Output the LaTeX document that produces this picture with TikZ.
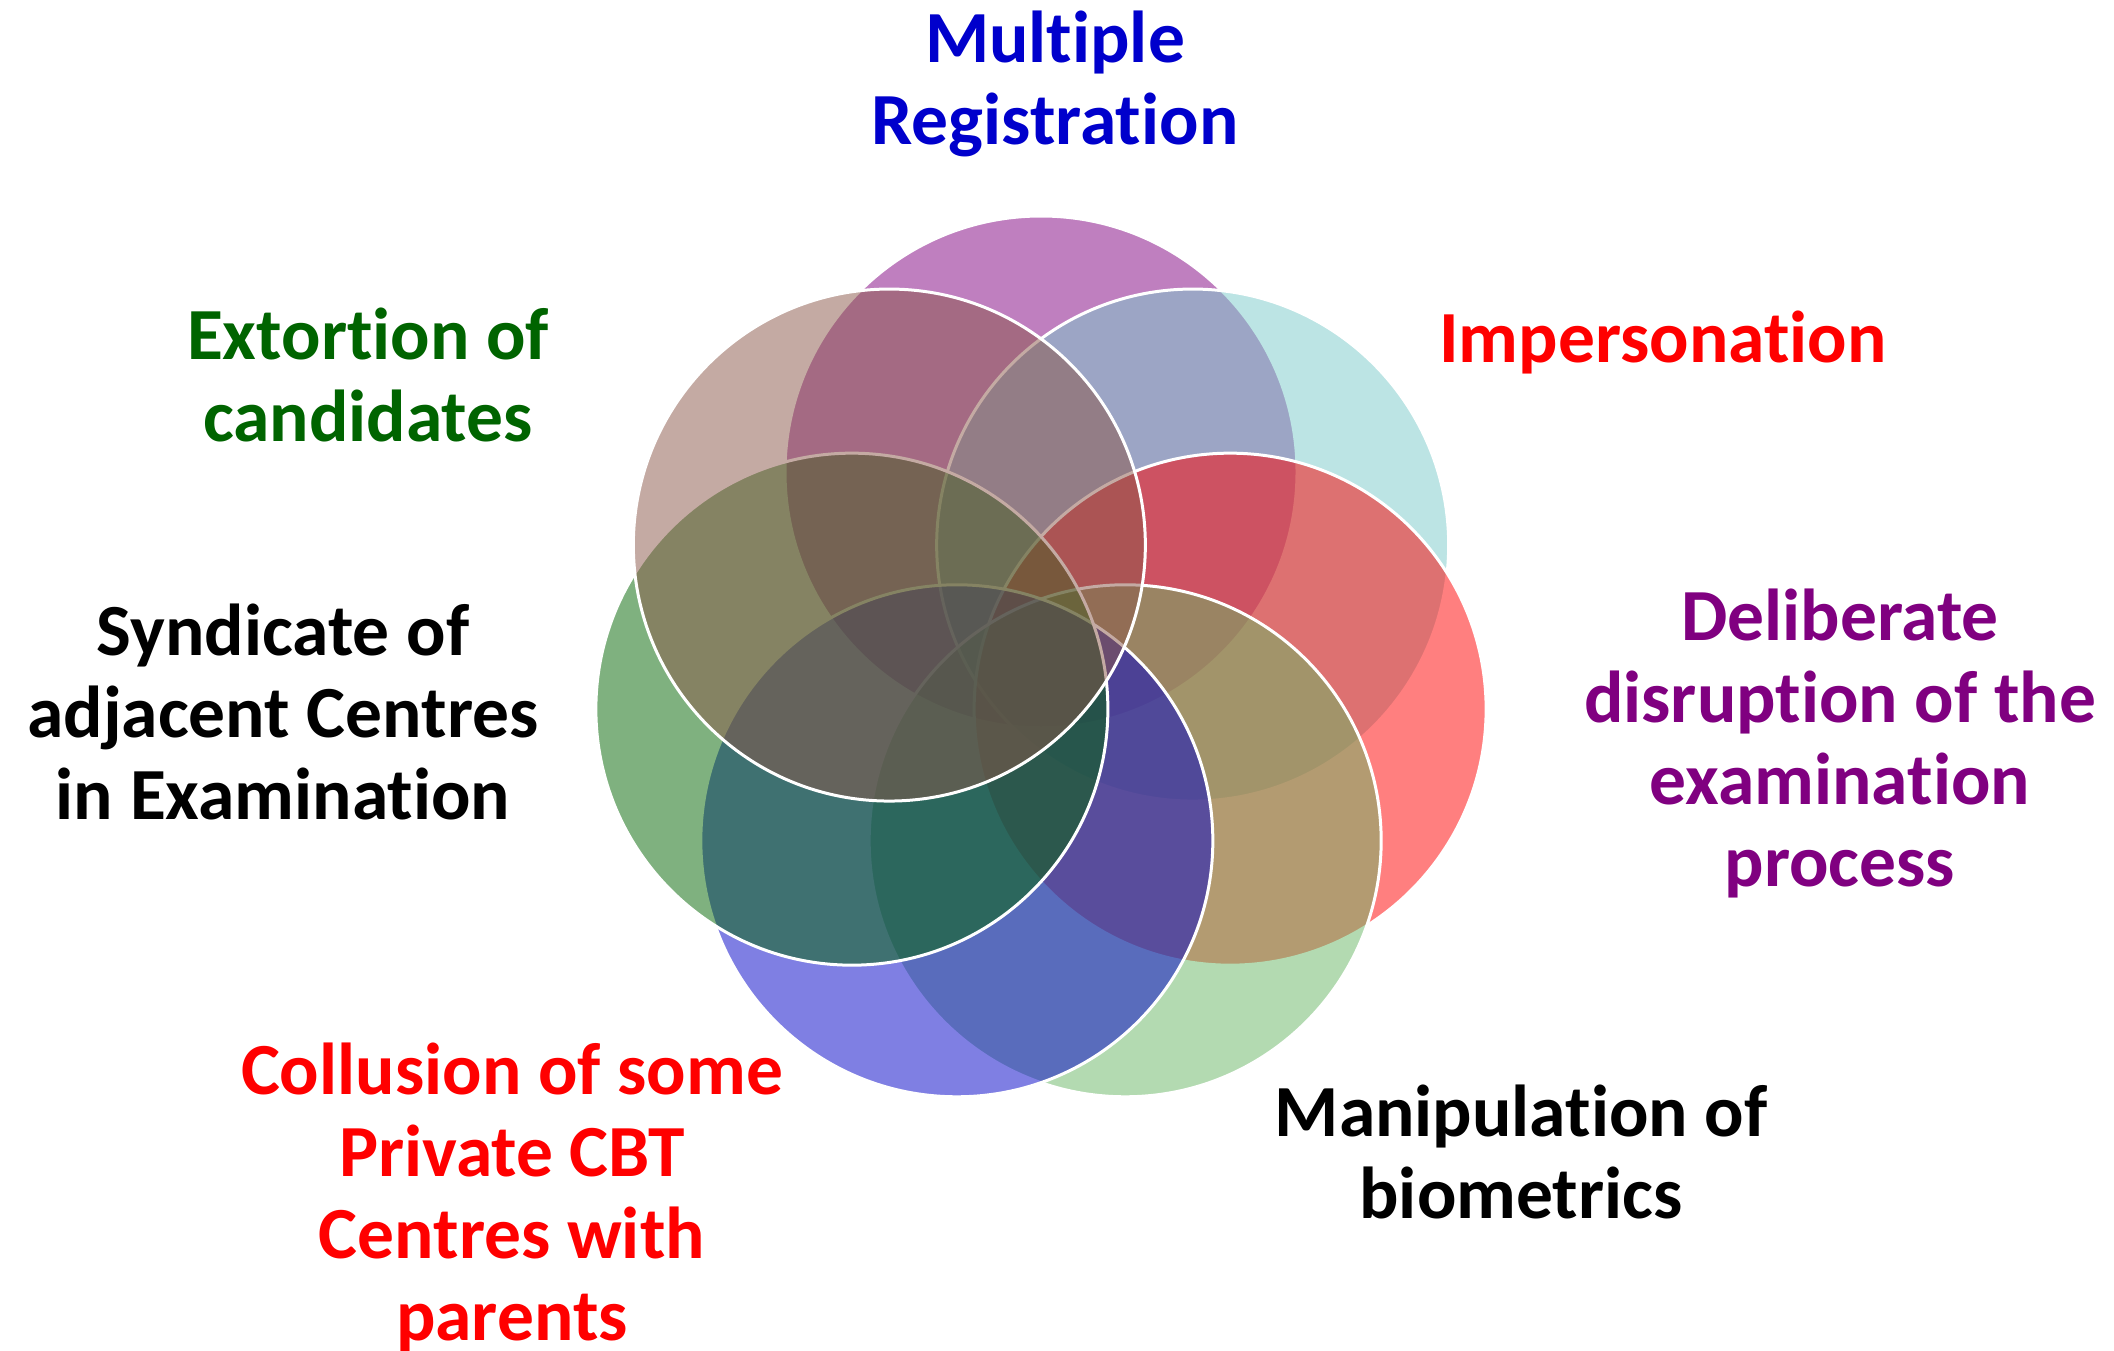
\documentclass[tikz,border=0pt]{standalone}
\usepackage{fontspec}
\setmainfont[Ligatures={NoCommon,NoContextual},RawFeature={-liga;-clig;-dlig;-calt}]{Carlito}
\usetikzlibrary{calc}
\newcommand\tiX{t\kern0pt i}
\definecolor{cpurple}{RGB}{128,0,128}
\definecolor{cteal}{RGB}{123,203,203}
\definecolor{cred}{RGB}{255,0,0}
\definecolor{clgreen}{RGB}{104,183,100}
\definecolor{cblue}{RGB}{0,0,200}
\definecolor{cdgreen}{RGB}{0,100,0}
\definecolor{cbrown}{RGB}{139,87,72}
\definecolor{tblue}{RGB}{0,0,204}
\definecolor{tgreen}{RGB}{0,100,0}
\definecolor{tpurple}{RGB}{128,0,128}
\begin{document}
\begin{tikzpicture}[x=1pt,y=-1pt,
  petal/.style={circle, minimum size=512pt, inner sep=0pt, draw=white, line width=3pt, fill opacity=0.5},
  lab/.style={font=\bfseries\fontsize{73.5}{82}\selectfont, align=center, inner sep=0pt}]
\useasboundingbox[fill=white] (0,0) rectangle (2114,1351);
\coordinate (C) at (1041,666);
\node[petal, fill=cpurple] (p1) at ($(C)+(-90:194)$) {};
\node[petal, fill=cteal]   (p2) at ($(C)+(-38.571:194)$) {};
\node[petal, fill=cred]    (p3) at ($(C)+(12.857:194)$) {};
\node[petal, fill=clgreen] (p4) at ($(C)+(64.286:194)$) {};
\node[petal, fill=cblue]   (p5) at ($(C)+(115.714:194)$) {};
\node[petal, fill=cdgreen] (p6) at ($(C)+(167.143:194)$) {};
\node[petal, fill=cbrown]  (p7) at ($(C)+(218.571:194)$) {};
\node[lab, text=tblue]   (l1) at (1055,84) {Multiple\\Registra\tiX on};
\node[lab, text=red]     (l2) at (1663,342) {Impersonation};
\node[lab, text=tpurple] (l3) at (1840,743) {Deliberate\\disrup\tiX on of the\\examina\tiX on\\process};
\node[lab, text=black]   (l4) at (1521,1152) {Manipula\tiX on of\\biometrics};
\node[lab, text=red]     (l5) at (512,1197) {Collusion of some\\Private CBT\\Centres with\\parents};
\node[lab, text=black]   (l6) at (283,712) {Syndicate of\\adjacent Centres\\in Examina\tiX on};
\node[lab, text=tgreen]  (l7) at (368,375) {Extor\tiX on of\\candidates};
\end{tikzpicture}
\end{document}
